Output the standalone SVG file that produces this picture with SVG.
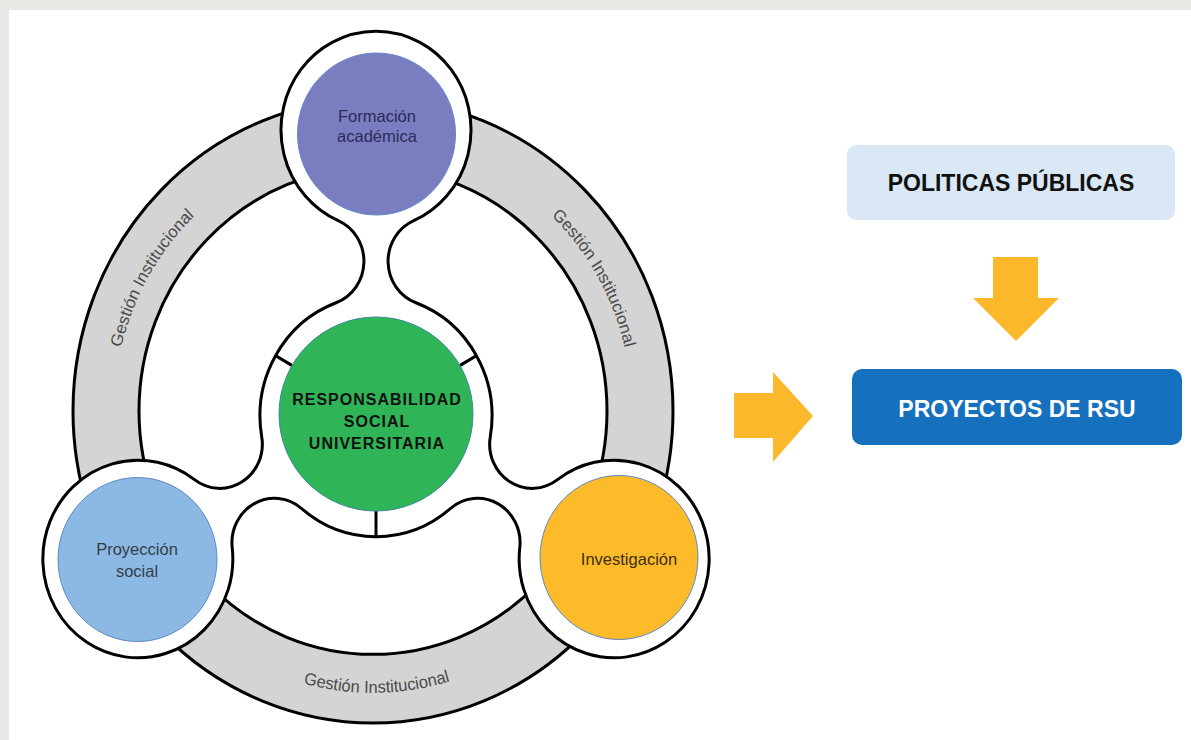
<svg xmlns="http://www.w3.org/2000/svg" xmlns:xlink="http://www.w3.org/1999/xlink" width="1191" height="740" viewBox="0 0 1191 740">
<style>
.outline{stroke:#000;stroke-width:3;vector-effect:non-scaling-stroke;stroke-linejoin:round}
.ringlbl{font-family:"Liberation Sans",Arial,sans-serif;font-size:16.5px;fill:#4a4a4a}
.sat{font-family:"Liberation Sans",Arial,sans-serif;font-size:16.5px;text-anchor:middle}
.core{font-family:"Liberation Sans",Arial,sans-serif;font-size:16px;font-weight:bold;letter-spacing:1px;text-anchor:middle;fill:#111}
.box{font-family:"Liberation Sans",Arial,sans-serif;font-size:23px;font-weight:bold;text-anchor:middle}
.arrow{fill:#fbb82b}
.rim{stroke:#5f88c6;stroke-width:1}
</style>
<defs>
<path id="tpBottom" d="M -174.2 207.6 A 271 271 0 0 0 174.2 207.6"/>
<path id="tpLeft" d="M -255.1 45.0 A 259 259 0 0 1 -88.6 -243.4"/>
<path id="tpRight" d="M 88.6 -243.4 A 259 259 0 0 1 255.1 45.0"/>
</defs>
<rect x="0" y="0" width="1191" height="740" fill="#e7e9e4"/>
<rect x="9" y="10" width="1182" height="730" fill="#ffffff"/>

<g id="ring" transform="translate(373,411) scale(1,1.04)">
<path class="outline" fill="#d4d4d4" fill-rule="evenodd" d="M 300 0 A 300 300 0 1 1 -300 0 A 300 300 0 1 1 300 0 Z M 234 0 A 234 234 0 1 0 -234 0 A 234 234 0 1 0 234 0 Z"/>
<text class="ringlbl" text-anchor="middle"><textPath xlink:href="#tpBottom" href="#tpBottom" startOffset="51%">Gestión Institucional</textPath></text>
<text class="ringlbl" text-anchor="middle"><textPath xlink:href="#tpLeft" href="#tpLeft" startOffset="50%">Gestión Institucional</textPath></text>
<text class="ringlbl" text-anchor="middle"><textPath xlink:href="#tpRight" href="#tpRight" startOffset="50%">Gestión Institucional</textPath></text>
</g>

<g id="hub" transform="translate(376,416) scale(1,1.04)">
<path class="outline" fill="#ffffff" d="M 143.78 126.57 A 42.5 42.5 0 0 0 74.33 89.05 A 116 116 0 0 1 -74.33 89.05 A 42.5 42.5 0 0 0 -143.78 126.57 A 95 95 0 1 1 -181.50 61.23 A 42.5 42.5 0 0 0 -114.29 19.84 A 116 116 0 0 1 -39.95 -108.90 A 42.5 42.5 0 0 0 -37.72 -187.81 A 95 95 0 1 1 37.72 -187.81 A 42.5 42.5 0 0 0 39.95 -108.90 A 116 116 0 0 1 114.29 19.84 A 42.5 42.5 0 0 0 181.50 61.23 A 95 95 0 1 1 143.78 126.57 Z"/>
<g class="outline">
<line x1="0" y1="90" x2="0" y2="116"/>
<line x1="-77.9" y1="-45" x2="-100.5" y2="-58"/>
<line x1="77.9" y1="-45" x2="100.5" y2="-58"/>
</g>
</g>

<g id="node-rsu">
<circle cx="376" cy="414" r="97" fill="#2fb457" stroke="#3a8a9a" stroke-width="1"/>
<text class="core" x="377" y="405">RESPONSABILIDAD</text>
<text class="core" x="377" y="427">SOCIAL</text>
<text class="core" x="377" y="449">UNIVERSITARIA</text>
</g>

<g id="node-formacion">
<ellipse class="rim" cx="376.5" cy="134" rx="79" ry="81" fill="#7b7dc1"/>
<text class="sat" x="377" y="122" fill="#2b2b58">Formación</text>
<text class="sat" x="377" y="142" fill="#2b2b58">académica</text>
</g>

<g id="node-proyeccion">
<ellipse class="rim" cx="137.5" cy="559.5" rx="79.5" ry="82" fill="#8cb9e3"/>
<text class="sat" x="137" y="555" fill="#333d4a">Proyección</text>
<text class="sat" x="137" y="577" fill="#333d4a">social</text>
</g>

<g id="node-investigacion">
<ellipse class="rim" cx="619" cy="557.5" rx="79" ry="82" fill="#fdbb2a"/>
<text class="sat" x="629" y="565" fill="#3a2f10">Investigación</text>
</g>

<g id="connectors">
<polygon class="arrow" points="734,393 773,393 773,372 813,416 773,462 773,438 734,438"/>
<polygon class="arrow" points="993,257 1038,257 1038,298 1059,298 1016,341 973,298 993,298"/>
</g>

<g id="node-politicas">
<rect x="847" y="145" width="328" height="75" rx="9" fill="#d9e8f4"/>
<text class="box" x="1011" y="191" fill="#111">POLITICAS PÚBLICAS</text>
</g>

<g id="node-proyectos">
<rect x="852" y="369" width="330" height="76" rx="10" fill="#1570be"/>
<text class="box" x="1017" y="417" fill="#ffffff">PROYECTOS DE RSU</text>
</g>
</svg>
